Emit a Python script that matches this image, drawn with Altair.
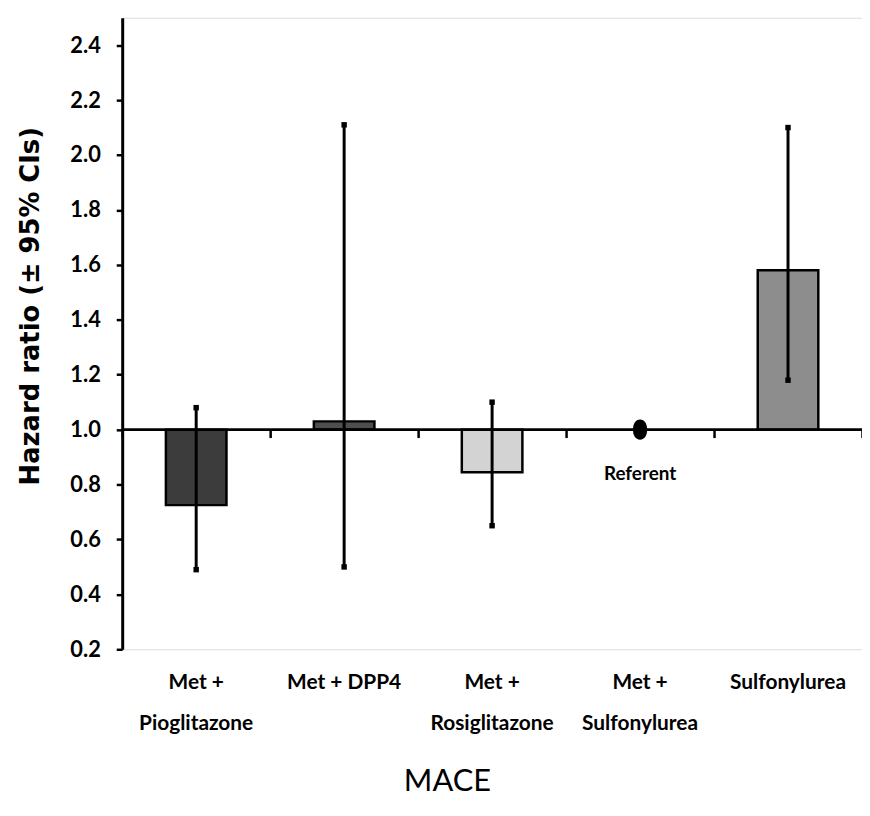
import altair as alt
import pandas as pd

# ---- data ----
categories = ["Met +\nPioglitazone", "Met + DPP4", "Met +\nRosiglitazone",
              "Met +\nSulfonylurea", "Sulfonylurea"]
hazard = [0.725, 1.03, 0.845, None, 1.58]
ci_low = [0.49, 0.50, 0.65, None, 1.18]
ci_high = [1.08, 2.11, 1.10, None, 2.10]
bar_colors = ["#3c3c3c", "#4e4e4e", "#d3d3d3", None, "#8d8d8d"]

referent_category = "Met +\nSulfonylurea"
referent_value = 1.0
referent_label = "Referent"
referent_label_value = 0.84

y_ticks = [0.2, 0.4, 0.6, 0.8, 1.0, 1.2, 1.4, 1.6, 1.8, 2.0, 2.2, 2.4]
y_domain = [0.2, 2.5]
baseline = 1.0

# ---- layout ----
W, H = 745, 636
FONT = "Lato, sans-serif"

df = pd.DataFrame({"cat": categories, "hr": hazard, "lo": ci_low,
                   "hi": ci_high, "color": bar_colors})
bars_df = df.dropna()
ref_df = pd.DataFrame({"cat": [referent_category], "hr": [referent_value],
                       "label": [referent_label], "ly": [referent_label_value]})

xscale = alt.Scale(domain=categories, paddingInner=0, paddingOuter=0)
yscale = alt.Scale(domain=y_domain, nice=False, zero=False)

y_axis = alt.Axis(values=y_ticks, format=".1f", title="Hazard ratio (± 95% CIs)",
                  grid=False, domainWidth=3, domainColor="black",
                  tickSize=6, tickWidth=2.5, tickColor="black",
                  labelFont=FONT, labelFontWeight="bold", labelFontSize=22,
                  labelColor="black", labelPadding=16,
                  titleFont="DejaVu Sans", titleFontWeight="bold", titleFontSize=26,
                  titleColor="black", titleAngle=270, titleAlign="center",
                  titleBaseline="middle", titleX=-92, titleY=290)


def yenc(field):
    return alt.Y(f"{field}:Q", scale=yscale, axis=y_axis)


x_label_axis = alt.Axis(labelExpr="split(datum.label, '\\n')", labelAngle=0,
                        domain=False, ticks=False, grid=False,
                        labelFont=FONT, labelFontWeight="bold", labelFontSize=21,
                        labelColor="black", labelBaseline="top", labelPadding=22,
                        labelLineHeight=42, labelAlign="center",
                        title="MACE", titleFont=FONT, titleFontWeight="normal",
                        titleFontSize=31, titleColor="black",
                        titleAlign="center", titleBaseline="middle",
                        titleX=327, titleY=133)

offset_1 = -(baseline - y_domain[0]) / (y_domain[1] - y_domain[0]) * H
x_tick_axis = alt.Axis(orient="bottom", offset=offset_1, domain=False, labels=False,
                       ticks=True, tickBand="extent", tickSize=8, tickWidth=2.5,
                       tickColor="black", grid=False, title=None)

bars = alt.Chart(bars_df).mark_bar(size=61, stroke="black", strokeWidth=2.5).encode(
    x=alt.X("cat:N", scale=xscale, sort=categories, axis=x_label_axis),
    y=yenc("hr"),
    y2=alt.datum(baseline),
    color=alt.Color("color:N", scale=None),
)

base_rule = alt.Chart(pd.DataFrame({"b": [baseline]})).mark_rule(
    color="black", strokeWidth=3).encode(y=yenc("b"))

ticks = alt.Chart(df).mark_point(opacity=0).encode(
    x=alt.X("cat:N", scale=xscale, sort=categories, axis=x_tick_axis),
    y=alt.datum(baseline),
)

err = alt.Chart(bars_df).mark_rule(color="black", strokeWidth=3).encode(
    x=alt.X("cat:N", scale=xscale, sort=categories, axis=None),
    y=yenc("lo"), y2="hi:Q",
)

caps_df = pd.concat([
    bars_df[["cat", "lo"]].rename(columns={"lo": "v"}),
    bars_df[["cat", "hi"]].rename(columns={"hi": "v"}),
])
caps = alt.Chart(caps_df).mark_point(shape="square", filled=True, size=30,
                                     color="black", opacity=1).encode(
    x=alt.X("cat:N", scale=xscale, sort=categories, axis=None),
    y=yenc("v"),
)

ellipse = ("M0,-1 C0.45,-1 0.7,-0.55 0.7,0 C0.7,0.55 0.45,1 0,1 "
           "C-0.45,1 -0.7,0.55 -0.7,0 C-0.7,-0.55 -0.45,-1 0,-1 Z")
ref_pt = alt.Chart(ref_df).mark_point(shape=ellipse, filled=True, size=420,
                                      color="black", opacity=1).encode(
    x=alt.X("cat:N", scale=xscale, sort=categories, axis=None),
    y=yenc("hr"),
)
ref_txt = alt.Chart(ref_df).mark_text(font=FONT, fontWeight="bold", fontSize=19,
                                      color="black", baseline="middle").encode(
    x=alt.X("cat:N", scale=xscale, sort=categories, axis=None),
    y=yenc("ly"),
    text="label:N",
)

chart = alt.layer(bars, base_rule, ticks, err, caps, ref_pt, ref_txt).resolve_axis(
    x="independent"
).properties(
    width=W, height=H,
    autosize=alt.AutoSizeParams(type="none"),
    padding={"left": 115, "top": 7, "right": 0, "bottom": 153},
).configure_view(stroke=None).configure(background="white")

chart.save("out.html", embed_options={"renderer": "svg", "actions": False})
